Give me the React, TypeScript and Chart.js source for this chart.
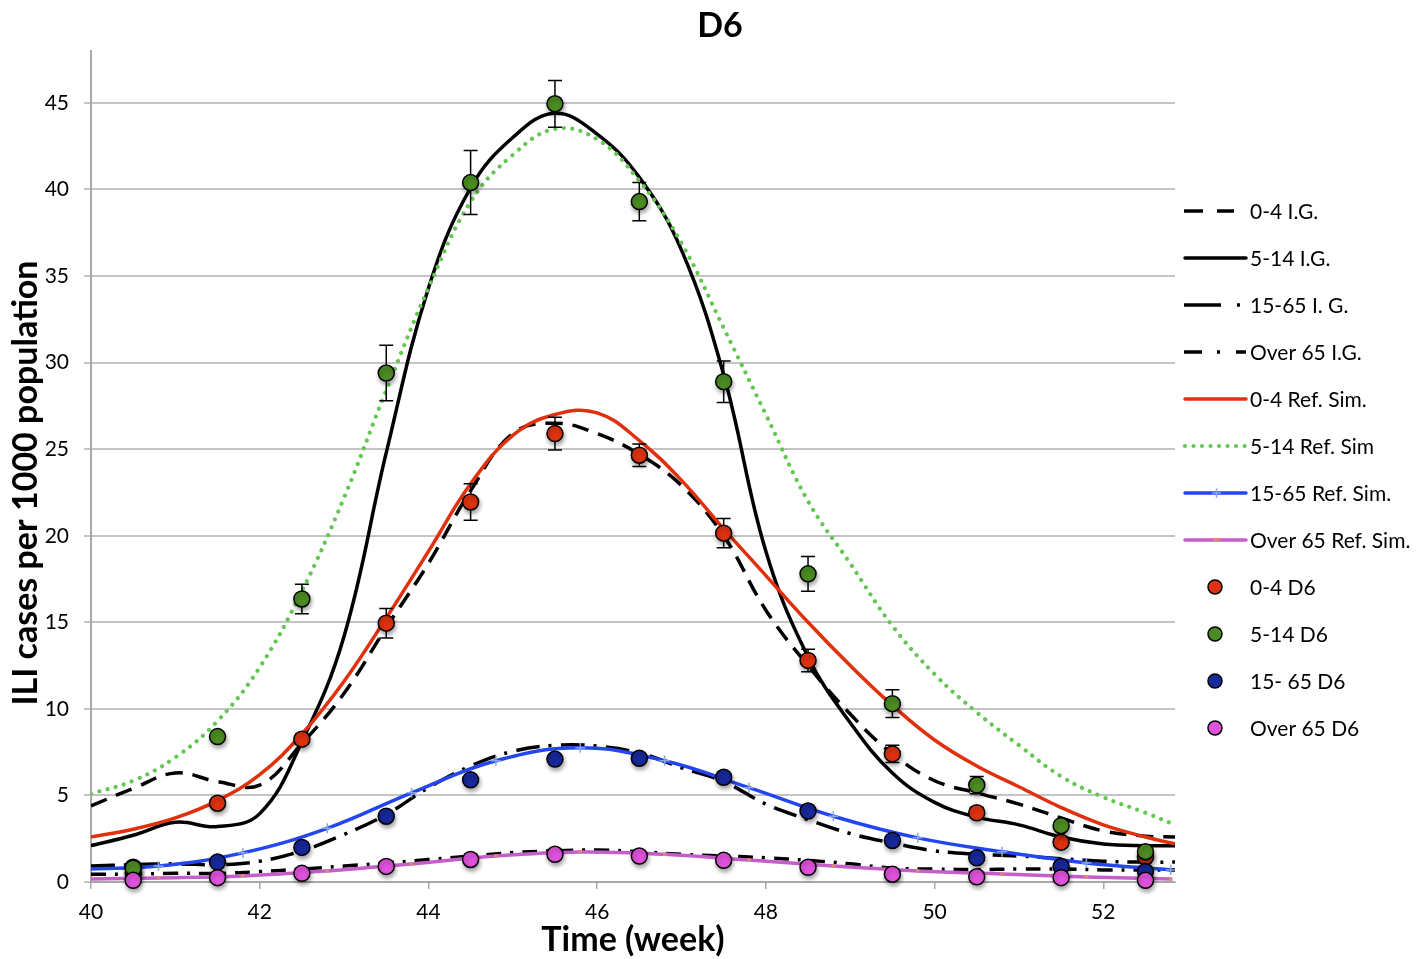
import { useEffect, useRef } from "react";
import { Chart, registerables } from "chart.js";

Chart.register(...registerables);

// ---------- data ----------
const titleText = "D6";
const xTitle = "Time (week)";
const yTitle = "ILI cases per 1000 population";
const xTicks = [40, 42, 44, 46, 48, 50, 52];
const yTicks = [0, 5, 10, 15, 20, 25, 30, 35, 40, 45];

// sample weeks for the smoothed curves
const curveWeeks = [40, 40.5, 41, 41.5, 42, 42.5, 43, 43.5, 44, 44.5, 45, 45.5, 46, 46.5, 47, 47.5, 48, 48.5, 49, 49.5, 50, 50.5, 51, 51.5, 52, 52.5, 52.85];
const ig04 = [4.4, 5.4, 6.3, 5.8, 5.6, 8.0, 10.9, 14.7, 18.4, 22.6, 25.9, 26.5, 25.9, 24.7, 22.9, 20.0, 15.7, 12.5, 9.7, 7.4, 5.85, 5.15, 4.5, 3.7, 2.95, 2.65, 2.6];
const ig514 = [2.1, 2.7, 3.45, 3.2, 3.95, 8.1, 14.2, 24.8, 34.3, 40.1, 43.0, 44.4, 43.2, 40.7, 36.5, 29.3, 19.1, 13.0, 9.2, 6.3, 4.6, 3.75, 3.3, 2.6, 2.2, 2.1, 2.1];
const ig1565 = [0.92, 1.0, 1.05, 1.0, 1.2, 1.8, 2.75, 3.9, 5.45, 6.7, 7.55, 7.9, 7.85, 7.45, 6.6, 5.8, 4.5, 3.6, 2.8, 2.25, 1.8, 1.6, 1.5, 1.35, 1.2, 1.15, 1.15];
const ig65 = [0.45, 0.45, 0.5, 0.5, 0.6, 0.75, 0.92, 1.1, 1.3, 1.5, 1.7, 1.8, 1.85, 1.75, 1.6, 1.5, 1.4, 1.25, 1.05, 0.8, 0.75, 0.72, 0.75, 0.75, 0.7, 0.7, 0.7];
const ref04 = [2.6, 3.05, 3.7, 4.7, 6.2, 8.55, 11.6, 15.25, 19.1, 23.0, 25.8, 27.0, 27.1, 25.5, 23.2, 20.4, 17.7, 15.0, 12.5, 10.2, 8.2, 6.7, 5.5, 4.3, 3.3, 2.6, 2.2];
const ref514 = [5.1, 5.85, 7.2, 9.3, 12.4, 16.8, 22.2, 28.4, 34.3, 39.3, 42.0, 43.5, 42.9, 40.5, 36.9, 32.0, 27.0, 22.0, 18.4, 14.8, 12.0, 9.8, 7.9, 6.1, 4.9, 4.0, 3.3];

// reference simulation points for the lower age groups
const simWeeks = [40, 40.8, 41.8, 42.8, 43.8, 44.8, 45.8, 46.8, 47.8, 48.8, 49.8, 50.8, 51.8, 52.8];
const ref1565 = [0.75, 0.92, 1.68, 3.1, 5.15, 7.0, 7.75, 7.0, 5.45, 3.8, 2.55, 1.75, 1.1, 0.7];
const ref65 = [0.17, 0.23, 0.35, 0.64, 1.04, 1.5, 1.73, 1.6, 1.27, 0.92, 0.64, 0.46, 0.29, 0.17];

// observed D6 points
const obsWeeks = [40.5, 41.5, 42.5, 43.5, 44.5, 45.5, 46.5, 47.5, 48.5, 49.5, 50.5, 51.5, 52.5];
const d6_04 = [0.5, 4.55, 8.25, 14.95, 21.95, 25.9, 24.65, 20.15, 12.8, 7.4, 4.0, 2.3, 1.45];
const d6_04err = [0, 0, 0.3, 0.85, 1.05, 0.95, 0.65, 0.85, 0.65, 0.5, 0.3, 0, 0];
const d6_514 = [0.8, 8.4, 16.35, 29.4, 40.4, 44.95, 39.3, 28.9, 17.8, 10.3, 5.6, 3.25, 1.75];
const d6_514err = [0, 0, 0.85, 1.6, 1.85, 1.35, 1.1, 1.2, 1.0, 0.8, 0.5, 0, 0];
const d6_1565 = [0.85, 1.15, 2.0, 3.8, 5.9, 7.1, 7.15, 6.05, 4.1, 2.4, 1.4, 0.9, 0.6];
const d6_65 = [0.1, 0.25, 0.5, 0.9, 1.3, 1.6, 1.5, 1.25, 0.85, 0.45, 0.3, 0.25, 0.1];

const legendLabels = ["0-4 I.G.", "5-14 I.G.", "15-65 I. G.", "Over 65 I.G.", "0-4 Ref. Sim.", "5-14 Ref. Sim", "15-65 Ref. Sim.", "Over 65 Ref. Sim.", "0-4 D6", "5-14 D6", "15- 65 D6", "Over 65 D6"];

const zip = (xs: number[], ys: number[]) => xs.map((x, i) => ({ x, y: ys[i] }));

const FONT = "Lato, 'Open Sans', sans-serif";
const W = 1411;
const H = 951;

export default function App() {
  const ref = useRef<HTMLCanvasElement | null>(null);

  useEffect(() => {
    if (!ref.current) return;

    const lineBase = {
      pointRadius: 0,
      pointHoverRadius: 0,
      tension: 0.4,
      fill: false,
      borderWidth: 3.5,
    };
    const pointBase = {
      showLine: false,
      pointRadius: 8,
      pointHoverRadius: 8,
      pointBorderColor: "#000",
      pointBorderWidth: 1.5,
      clip: false as const,
    };

    const errMap: Record<number, number[]> = {};

    const datasets: any[] = [
      { ...lineBase, label: legendLabels[0], data: zip(curveWeeks, ig04), borderColor: "#000", borderDash: [17, 10], order: 20 },
      { ...lineBase, label: legendLabels[1], data: zip(curveWeeks, ig514), borderColor: "#000", order: 21 },
      { ...lineBase, label: legendLabels[2], data: zip(curveWeeks, ig1565), borderColor: "#000", borderDash: [24, 9, 3, 9], order: 22 },
      { ...lineBase, label: legendLabels[3], data: zip(curveWeeks, ig65), borderColor: "#000", borderDash: [15, 9, 3, 9], order: 23 },
      { ...lineBase, label: legendLabels[4], data: zip(curveWeeks, ref04), borderColor: "#e0300d", order: 18 },
      { ...lineBase, label: legendLabels[5], data: zip(curveWeeks, ref514), borderColor: "#66c655", borderDash: [0.01, 8.5], borderCapStyle: "round", borderWidth: 4.2, order: 19 },
      { ...lineBase, label: legendLabels[6], data: zip(simWeeks, ref1565), borderColor: "#2346f0", order: 16,
        pointRadius: simWeeks.map((_, i) => (i === 0 ? 0 : 5)), pointStyle: "cross", pointBorderColor: "#86a6e6", pointBorderWidth: 1.5 },
      { ...lineBase, label: legendLabels[7], data: zip(simWeeks, ref65), borderColor: "#c65ec8", order: 17,
        pointRadius: simWeeks.map((_, i) => (i === 0 ? 0 : 2.5)), pointStyle: "rect", pointBackgroundColor: "#d98a7a", pointBorderColor: "#d98a7a", pointBorderWidth: 0 },
      { ...pointBase, label: legendLabels[8], data: zip(obsWeeks, d6_04), pointBackgroundColor: "#dd3210", order: 4 },
      { ...pointBase, label: legendLabels[9], data: zip(obsWeeks, d6_514), pointBackgroundColor: "#4b8c22", order: 2 },
      { ...pointBase, label: legendLabels[10], data: zip(obsWeeks, d6_1565), pointBackgroundColor: "#17289a", order: 3 },
      { ...pointBase, label: legendLabels[11], data: zip(obsWeeks, d6_65), pointBackgroundColor: "#e052dc", order: 1 },
    ];
    errMap[8] = d6_04err;
    errMap[9] = d6_514err;

    const decor = {
      id: "decor",
      beforeDatasetDraw(chart: any, args: any) {
        const ds = chart.data.datasets[args.index];
        if (ds.showLine !== false) return;
        const ctx = chart.ctx;
        const xs = chart.scales.x;
        const ys = chart.scales.y;
        const errs = errMap[args.index];
        if (errs) {
          ctx.save();
          ctx.strokeStyle = "#000";
          ctx.lineWidth = 1.5;
          ds.data.forEach((p: any, i: number) => {
            const e = errs[i];
            if (!e) return;
            const px = xs.getPixelForValue(p.x);
            const t = ys.getPixelForValue(p.y + e);
            const b = ys.getPixelForValue(p.y - e);
            ctx.beginPath();
            ctx.moveTo(px, t); ctx.lineTo(px, b);
            ctx.moveTo(px - 7, t); ctx.lineTo(px + 7, t);
            ctx.moveTo(px - 7, b); ctx.lineTo(px + 7, b);
            ctx.stroke();
          });
          ctx.restore();
        }
        ctx.save();
        ctx.shadowColor = "rgba(0,0,0,0.35)";
        ctx.shadowBlur = 4;
        ctx.shadowOffsetX = 1;
        ctx.shadowOffsetY = 3;
      },
      afterDatasetDraw(chart: any, args: any) {
        const ds = chart.data.datasets[args.index];
        if (ds.showLine !== false) return;
        chart.ctx.restore();
      },
      afterDraw(chart: any) {
        const ctx = chart.ctx;
        const area = chart.chartArea;
        ctx.save();
        ctx.fillStyle = "#000";
        ctx.textAlign = "center";
        ctx.textBaseline = "middle";
        // main title
        ctx.font = `bold 34px ${FONT}`;
        ctx.fillText(titleText, 712, 18);
        // x title
        ctx.font = `bold 34px ${FONT}`;
        ctx.fillText(xTitle, (area.left + area.right) / 2, 932);
        // y title
        ctx.save();
        ctx.translate(18, 475);
        ctx.rotate(-Math.PI / 2);
        ctx.fillText(yTitle, 0, 0);
        ctx.restore();

        // legend
        const x0 = 1176;
        const x1 = 1237;
        const rowY = (i: number) => 203 + 47 * i;
        ctx.textAlign = "left";
        ctx.font = `21px ${FONT}`;
        legendLabels.forEach((lab, i) => {
          const y = rowY(i);
          const ds = chart.data.datasets[i];
          ctx.save();
          if (i < 8) {
            ctx.strokeStyle = ds.borderColor;
            ctx.lineWidth = ds.borderWidth;
            ctx.lineCap = "butt";
            ctx.beginPath();
            if (i === 0) {
              ctx.moveTo(x0, y); ctx.lineTo(x0 + 19, y);
              ctx.moveTo(x0 + 33, y); ctx.lineTo(x0 + 50, y);
            } else if (i === 2) {
              ctx.moveTo(x0, y); ctx.lineTo(x0 + 37, y);
              ctx.moveTo(x0 + 53, y); ctx.lineTo(x0 + 56, y);
            } else if (i === 3) {
              ctx.moveTo(x0, y); ctx.lineTo(x0 + 18, y);
              ctx.moveTo(x0 + 33, y); ctx.lineTo(x0 + 36, y);
              ctx.moveTo(x0 + 52, y); ctx.lineTo(x0 + 62, y);
            } else if (i === 5) {
              ctx.setLineDash([0.01, 8.5]);
              ctx.lineCap = "round";
              ctx.moveTo(x0 + 1, y); ctx.lineTo(x1, y);
            } else {
              ctx.lineCap = "round";
              ctx.moveTo(x0 + 1, y); ctx.lineTo(x1 + 1, y);
            }
            ctx.stroke();
            ctx.setLineDash([]);
            const mid = (x0 + x1) / 2 + 2;
            if (i === 6) {
              ctx.strokeStyle = "#86a6e6";
              ctx.lineWidth = 1.5;
              ctx.beginPath();
              ctx.moveTo(mid - 4, y); ctx.lineTo(mid + 4, y);
              ctx.moveTo(mid, y - 4); ctx.lineTo(mid, y + 4);
              ctx.stroke();
            } else if (i === 7) {
              ctx.fillStyle = "#d98a7a";
              ctx.fillRect(mid - 3, y - 2, 6, 4);
            }
          } else {
            ctx.fillStyle = ds.pointBackgroundColor;
            ctx.strokeStyle = "#000";
            ctx.lineWidth = 1.5;
            ctx.beginPath();
            ctx.arc(1207, y, 7, 0, Math.PI * 2);
            ctx.fill();
            ctx.stroke();
          }
          ctx.restore();
          ctx.fillStyle = "#000";
          ctx.fillText(lab, 1242, y + 1);
        });
        ctx.restore();
      },
    };

    const chart = new Chart(ref.current, {
      type: "line",
      data: { datasets },
      options: {
        animation: false,
        responsive: false,
        events: [],
        layout: { padding: { left: 0, right: 244, top: 43, bottom: 0 } },
        plugins: { legend: { display: false }, tooltip: { enabled: false }, title: { display: false } },
        scales: {
          x: {
            type: "linear",
            min: 40,
            max: 52.85,
            afterFit(scale: any) { scale.height = H - 874; },
            afterBuildTicks(scale: any) { scale.ticks = xTicks.map((v) => ({ value: v })); },
            grid: { drawOnChartArea: false, drawTicks: true, tickLength: 7, color: "#a8a8a8", lineWidth: 1.5 },
            border: { display: true, color: "#a8a8a8", width: 2 },
            ticks: { color: "#000", font: { family: FONT, size: 21 }, padding: 11, maxRotation: 0, autoSkip: false },
          },
          y: {
            type: "linear",
            min: 0,
            max: 48,
            afterFit(scale: any) { scale.width = 83; },
            afterBuildTicks(scale: any) { scale.ticks = yTicks.map((v) => ({ value: v })); },
            grid: { drawOnChartArea: true, drawTicks: true, tickLength: 7, color: "#c4c4c4", lineWidth: 2 },
            border: { display: true, color: "#a8a8a8", width: 2 },
            ticks: { color: "#000", font: { family: FONT, size: 21 }, padding: 15, autoSkip: false },
          },
        },
      },
      plugins: [decor],
    });
    return () => chart.destroy();
  }, []);

  return (
    <div style={{ width: W, height: H }}>
      <canvas ref={ref} width={W} height={H} style={{ display: "block", width: W, height: H }} />
    </div>
  );
}
